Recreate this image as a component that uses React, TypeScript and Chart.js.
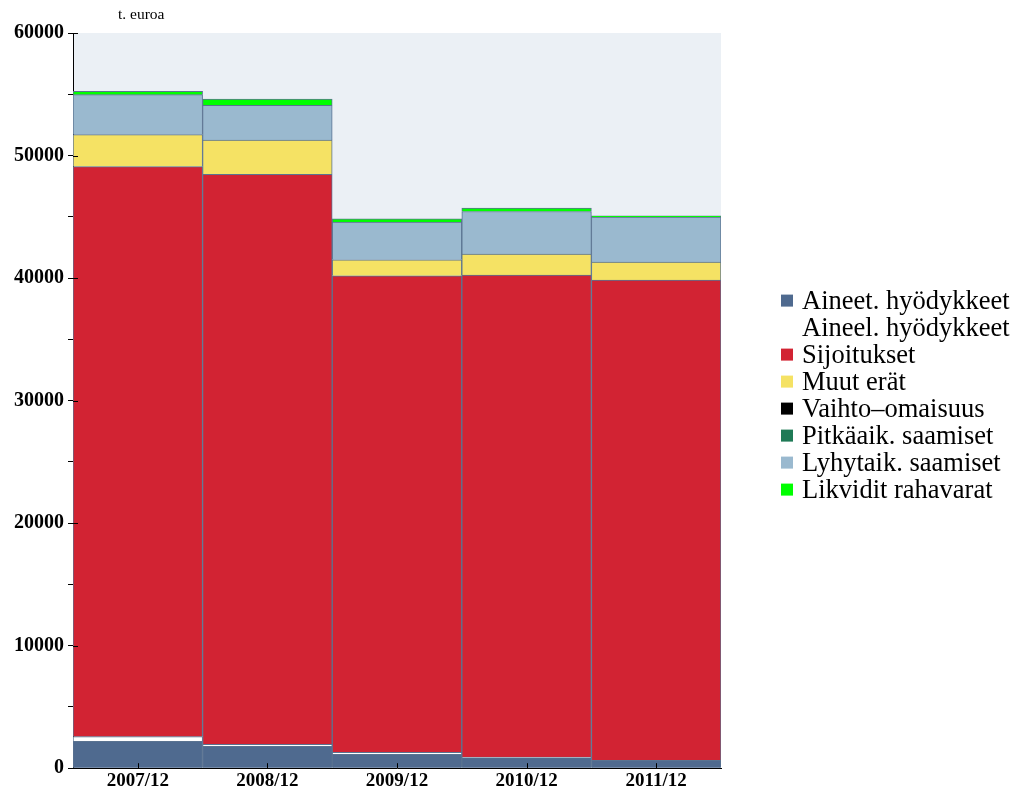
import React, { useEffect, useRef } from "react";
import { Chart, registerables } from "chart.js";

Chart.register(...registerables);

const categories = ["2007/12", "2008/12", "2009/12", "2010/12", "2011/12"];
const aineet = [2200, 1790, 1140, 860, 650];
const aineel = [380, 160, 160, 40, 0];
const sijoitukset = [46520, 46520, 38890, 39350, 39190];
const muut = [2610, 2800, 1300, 1710, 1470];
const vaihto = [0, 0, 0, 0, 0];
const pitka = [0, 0, 0, 0, 0];
const lyhyt = [3260, 2830, 3070, 3470, 3670];
const likvidit = [270, 510, 270, 275, 100];

const seriesNames = [
  "Aineet. hyödykkeet",
  "Aineel. hyödykkeet",
  "Sijoitukset",
  "Muut erät",
  "Vaihto–omaisuus",
  "Pitkäaik. saamiset",
  "Lyhytaik. saamiset",
  "Likvidit rahavarat",
];
const seriesColors = ["#4F6A8F", "#FFFFFF", "#D22333", "#F5E264", "#000000", "#1F7A56", "#9AB9CF", "#00FF00"];
const yTitle = "t. euroa";

const FONT = "'Liberation Serif', 'Times New Roman', serif";

const bgPlugin = {
  id: "bgPlugin",
  beforeDraw(chart: any) {
    const { ctx, chartArea } = chart;
    ctx.save();
    ctx.fillStyle = "#EBF0F5";
    ctx.fillRect(chartArea.left, chartArea.top, chartArea.right - chartArea.left, chartArea.bottom - chartArea.top);
    ctx.restore();
  },
  afterDraw(chart: any) {
    const { ctx, chartArea, scales } = chart;
    ctx.save();
    ctx.strokeStyle = "#000";
    ctx.lineWidth = 1;
    // inward x ticks
    const xs = scales.x;
    categories.forEach((_, i) => {
      const px = Math.round(xs.getPixelForTick(i)) + 0.5;
      ctx.beginPath();
      ctx.moveTo(px, chartArea.bottom);
      ctx.lineTo(px, chartArea.bottom - 5);
      ctx.stroke();
    });
    // inward major y ticks
    const ys = scales.y;
    ys.ticks.forEach((t: any, i: number) => {
      if (t.value % 10000 === 0) {
        const py = Math.round(ys.getPixelForTick(i)) + 0.5;
        ctx.beginPath();
        ctx.moveTo(chartArea.left, py);
        ctx.lineTo(chartArea.left + 5, py);
        ctx.stroke();
      }
    });
    // title
    ctx.fillStyle = "#000";
    ctx.font = `15.5px ${FONT}`;
    ctx.textAlign = "left";
    ctx.textBaseline = "middle";
    ctx.fillText(yTitle, chartArea.left + 45, chartArea.top - 18);
    // legend
    const rowH = 27;
    const midY = (chartArea.top + chartArea.bottom) / 2 - 5.5;
    const startY = midY - (rowH * (seriesNames.length - 1)) / 2;
    const boxX = chartArea.right + 60;
    ctx.font = `26.5px ${FONT}`;
    ctx.textBaseline = "middle";
    seriesNames.forEach((name, i) => {
      const cy = startY + i * rowH;
      ctx.fillStyle = seriesColors[i];
      ctx.fillRect(boxX, cy - 6, 12, 12);
      ctx.fillStyle = "#000";
      ctx.fillText(name, boxX + 21, cy + 1);
    });
    ctx.restore();
  },
};

export default function App() {
  const ref = useRef<HTMLCanvasElement>(null);
  useEffect(() => {
    const seriesData = [aineet, aineel, sijoitukset, muut, vaihto, pitka, lyhyt, likvidit];
    const chart = new Chart(ref.current as HTMLCanvasElement, {
      type: "bar",
      data: {
        labels: categories,
        datasets: seriesNames.map((name, i) => ({
          label: name,
          data: seriesData[i],
          backgroundColor: seriesColors[i],
          borderColor: "#5A7391",
          borderWidth: 1,
          borderSkipped: "start",
          barPercentage: 1,
          categoryPercentage: 1,
        })),
      },
      options: {
        animation: false,
        responsive: false,
        maintainAspectRatio: false,
        layout: { padding: { left: 10, top: 33, right: 300, bottom: 3 } },
        plugins: {
          tooltip: { enabled: false },
          legend: { display: false },
        },
        scales: {
          x: {
            stacked: true,
            grid: { display: false, drawTicks: false },
            border: { display: true, color: "#000", width: 1 },
            ticks: { font: { family: FONT, size: 19, weight: "bold" }, color: "#000", padding: 1 },
          },
          y: {
            stacked: true,
            min: 0,
            max: 60000,
            grid: { drawOnChartArea: false, tickLength: 5, color: "#000" },
            border: { display: true, color: "#000", width: 1 },
            ticks: {
              stepSize: 5000,
              font: { family: FONT, size: 20, weight: "bold" },
              color: "#000",
              padding: 4,
              callback: (v: any) => (Number(v) % 10000 === 0 ? String(v) : ""),
            },
          },
        },
      },
      plugins: [bgPlugin],
    });
    return () => chart.destroy();
  }, []);
  return (
    <div style={{ position: "absolute", left: 0, top: 0, width: 1021, height: 796 }}>
      <canvas ref={ref} width={1021} height={796} style={{ width: 1021, height: 796 }} />
    </div>
  );
}
